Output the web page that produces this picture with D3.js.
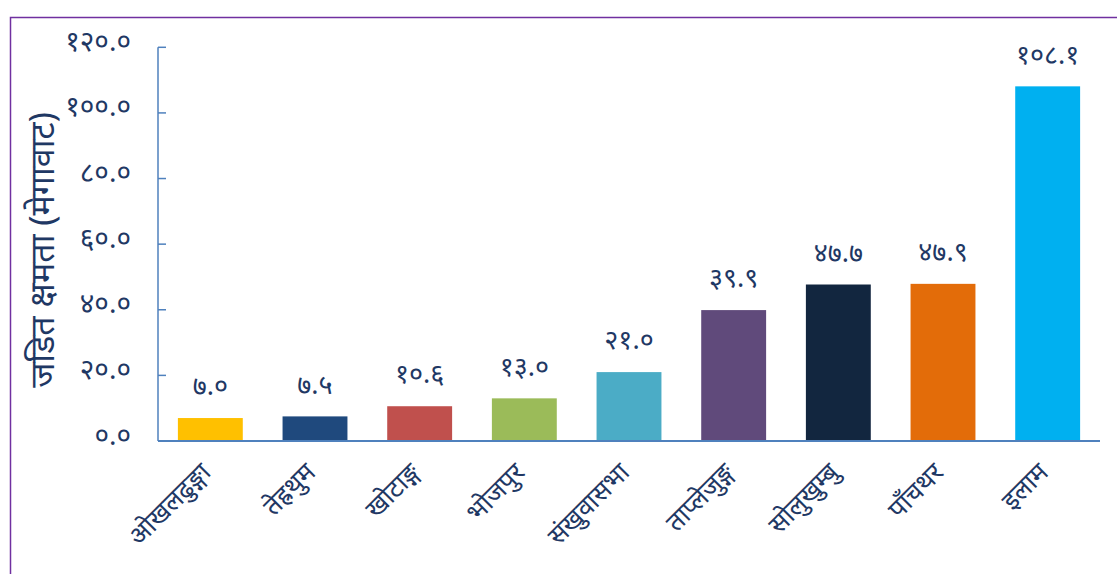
<!DOCTYPE html>
<html>
<head>
<meta charset="utf-8">
<script src="https://cdn.jsdelivr.net/npm/d3@7"></script>
<style>
  html, body { margin: 0; padding: 0; background: #fff; }
  svg { display: block; }
  text { font-family: "Noto Sans", "Noto Sans Devanagari", "Lohit Devanagari", sans-serif; }
</style>
</head>
<body>
<svg id="chart" width="1117" height="574"></svg>
<script>
const categories = ["ओखलढुङ्गा", "तेह्रथुम", "खोटाङ्ग", "भोजपुर", "संखुवासभा", "ताप्लेजुङ्ग", "सोलुखुम्बु", "पाँचथर", "इलाम"];
const values = [7.0, 7.5, 10.6, 13.0, 21.0, 39.9, 47.7, 47.9, 108.1];
const valueLabels = ["७.०", "७.५", "१०.६", "१३.०", "२१.०", "३९.९", "४७.७", "४७.९", "१०८.१"];
const yTicks = [0, 20, 40, 60, 80, 100, 120];
const yTickLabels = ["०.०", "२०.०", "४०.०", "६०.०", "८०.०", "१००.०", "१२०.०"];
const barColors = ["#FFC000", "#1F497D", "#C0504D", "#9BBB59", "#4BACC6", "#604A7B", "#12263F", "#E36C09", "#00B0F0"];
const yTitle = "जडित क्षमता (मेगावाट)";

const svg = d3.select("#chart");
const textColor = "#1F3864";
const axisColor = "#4F81BD";

// outer border (left and top)
svg.append("path")
  .attr("d", "M10.5,574 L10.5,17.5 L1117,17.5")
  .attr("fill", "none").attr("stroke", "#7030A0").attr("stroke-width", 1.5);

const x0 = 158, x1 = 1100, yTop = 47.3, yBot = 441;
const x = d3.scaleBand().domain(categories).range([x0, x1]).paddingInner(0.38).paddingOuter(0.19);
const y = d3.scaleLinear().domain([0, 120]).range([yBot, yTop]);

// y axis
svg.append("line").attr("x1", x0).attr("x2", x0).attr("y1", yTop).attr("y2", yBot)
  .attr("stroke", axisColor).attr("stroke-width", 1.5);
svg.selectAll(".ytick").data(yTicks).enter().append("line")
  .attr("x1", x0).attr("x2", x0 + 8)
  .attr("y1", d => y(d)).attr("y2", d => y(d))
  .attr("stroke", axisColor).attr("stroke-width", 1.5);
svg.selectAll(".ylab").data(yTicks).enter().append("text")
  .attr("x", 131).attr("y", d => y(d) - 4)
  .attr("text-anchor", "end").attr("dominant-baseline", "middle")
  .attr("fill", textColor).attr("font-size", 28)
  .text((d, i) => yTickLabels[i]);

// bars
svg.selectAll(".bar").data(values).enter().append("rect")
  .attr("x", (d, i) => x(categories[i]))
  .attr("width", x.bandwidth())
  .attr("y", d => y(d))
  .attr("height", d => yBot - y(d))
  .attr("fill", (d, i) => barColors[i]);

// x axis line
svg.append("line").attr("x1", x0).attr("x2", x1).attr("y1", yBot).attr("y2", yBot)
  .attr("stroke", axisColor).attr("stroke-width", 2);

// value labels
svg.selectAll(".vlab").data(values).enter().append("text")
  .attr("x", (d, i) => x(categories[i]) + x.bandwidth() / 2)
  .attr("y", d => y(d) - 30)
  .attr("text-anchor", "middle").attr("dominant-baseline", "middle")
  .attr("fill", textColor).attr("font-size", 27)
  .text((d, i) => valueLabels[i]);

// category labels
svg.selectAll(".xlab").data(categories).enter().append("text")
  .attr("transform", d => `translate(${x(d) + x.bandwidth() / 2 + 2},${yBot + 33}) rotate(-45)`)
  .attr("text-anchor", "end")
  .attr("fill", textColor).attr("font-size", 26)
  .text(d => d);

// y title
svg.append("text")
  .attr("transform", `translate(54,250) rotate(-90)`)
  .attr("text-anchor", "middle")
  .attr("fill", textColor).attr("font-size", 34)
  .text(yTitle);
</script>
</body>
</html>
